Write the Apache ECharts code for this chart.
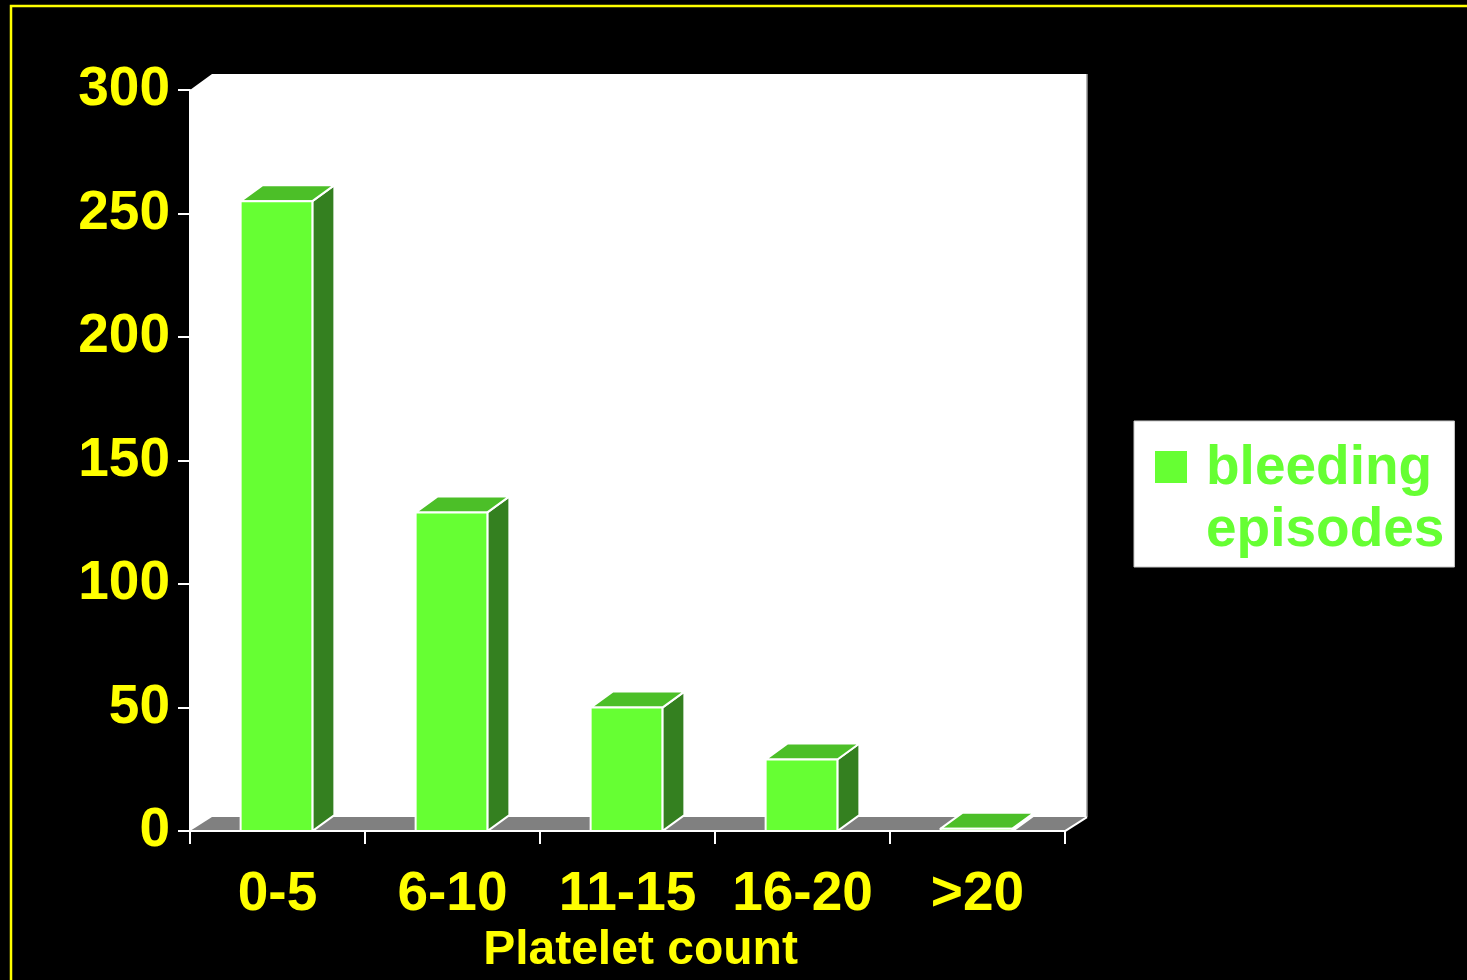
<!DOCTYPE html>
<html>
<head>
<meta charset="utf-8">
<style>
  html, body { margin: 0; padding: 0; background: #000; }
  #chart { width: 1467px; height: 980px; }
</style>
<script src="https://cdn.jsdelivr.net/npm/echarts@6/dist/echarts.min.js"></script>
</head>
<body>
<div id="chart"></div>
<script>
// Bleeding episodes by platelet count band
const categories = ['0-5', '6-10', '11-15', '16-20', '>20'];
const bleedingEpisodes = [255, 129, 50, 29, 1];
const yAxisMin = 0;
const yAxisMax = 300;
const yAxisStep = 50;

const seriesName = 'bleeding episodes';
const FONT = '"Liberation Sans", Arial, Helvetica, sans-serif';
const YELLOW = '#FFFF00';
const GREEN_FRONT = '#66FF33';
const GREEN_TOP = '#4CBF28';
const GREEN_SIDE = '#348020';
const FLOOR_GREY = '#808080';

// 3D extrusion offsets (pixels)
const DEPTH_X = 22;
const DEPTH_Y = 16;
const FLOOR_DEPTH_Y = 14;
const BAR_RATIO = 0.41;

function renderRoom(params, api) {
  const cs = params.coordSys;
  const l = cs.x, t = cs.y, r = cs.x + cs.width, b = cs.y + cs.height;
  return {
    type: 'group',
    children: [
      {
        type: 'polygon',
        shape: { points: [[l, t], [l + DEPTH_X, t - DEPTH_Y], [r + DEPTH_X, t - DEPTH_Y],
                          [r + DEPTH_X, b - FLOOR_DEPTH_Y], [r, b], [l, b]] },
        style: { fill: '#FFFFFF', stroke: null }
      },
      {
        type: 'line',
        shape: { x1: r + DEPTH_X, y1: t - DEPTH_Y, x2: r + DEPTH_X, y2: b - FLOOR_DEPTH_Y },
        style: { stroke: '#9A9A9A', lineWidth: 1.5 }
      },
      {
        type: 'polygon',
        shape: { points: [[l, b], [l + DEPTH_X, b - FLOOR_DEPTH_Y],
                          [r + DEPTH_X, b - FLOOR_DEPTH_Y], [r, b]] },
        style: { fill: FLOOR_GREY, stroke: null }
      },
      {
        type: 'line',
        shape: { x1: r, y1: b, x2: r + DEPTH_X, y2: b - FLOOR_DEPTH_Y },
        style: { stroke: '#FFFFFF', lineWidth: 2 }
      }
    ]
  };
}

function renderBar(params, api) {
  const top = api.coord([api.value(0), api.value(1)]);
  const base = api.coord([api.value(0), 0]);
  const band = api.size([1, 0])[0];
  const w = band * BAR_RATIO;
  const x0 = top[0] - w / 2 - 1, x1 = x0 + w;
  const y0 = top[1], y1 = base[1];
  const edge = { stroke: '#FFFFFF', lineWidth: 2, lineJoin: 'round' };
  return {
    type: 'group',
    children: [
      {
        type: 'polygon',
        shape: { points: [[x1, y1], [x1 + DEPTH_X, y1 - DEPTH_Y], [x1 + DEPTH_X, y0 - DEPTH_Y], [x1, y0]] },
        style: Object.assign({ fill: GREEN_SIDE }, edge)
      },
      {
        type: 'polygon',
        shape: { points: [[x0, y0], [x1, y0], [x1 + DEPTH_X, y0 - DEPTH_Y], [x0 + DEPTH_X, y0 - DEPTH_Y]] },
        style: Object.assign({ fill: GREEN_TOP }, edge)
      },
      {
        type: 'polygon',
        shape: { points: [[x0, y1], [x1, y1], [x1, y0], [x0, y0]] },
        style: Object.assign({ fill: GREEN_FRONT }, edge)
      }
    ]
  };
}

const chart = echarts.init(document.getElementById('chart'), null, { renderer: 'canvas' });

chart.setOption({
  backgroundColor: '#000000',
  animation: false,
  grid: { left: 190, top: 90, width: 875, height: 742, containLabel: false },
  legend: {
    data: [seriesName],
    left: 1134,
    top: 421,
    orient: 'vertical',
    backgroundColor: '#FFFFFF',
    borderColor: '#C8C8C8',
    borderWidth: 1,
    borderRadius: 0,
    padding: [17, 10, 5, 21],
    itemWidth: 46,
    itemHeight: 124,
    symbolKeepAspect: false,
    icon: 'path://M0 13h32v32h-32z M0 0h0.01v0.01h-0.01z M46 124h0.01v0.01h-0.01z',
    formatter: function () { return 'bleeding\nepisodes'; },
    textStyle: {
      color: GREEN_FRONT,
      fontFamily: FONT,
      fontWeight: 'bold',
      fontSize: 55,
      lineHeight: 62
    },
    selectedMode: false
  },
  xAxis: {
    type: 'category',
    data: categories,
    boundaryGap: true,
    z: 5,
    name: 'Platelet count',
    nameLocation: 'middle',
    nameGap: 92,
    nameTextStyle: {
      color: YELLOW, fontFamily: FONT, fontWeight: 'bold', fontSize: 48,
      padding: [0, 0, 0, 26]
    },
    axisLine: { show: true, lineStyle: { color: '#FFFFFF', width: 2 } },
    axisTick: { show: true, interval: 0, length: 13, lineStyle: { color: '#FFFFFF', width: 2 } },
    axisLabel: { interval: 0, color: YELLOW, fontFamily: FONT, fontWeight: 'bold', fontSize: 55, margin: 36 },
    splitLine: { show: false }
  },
  yAxis: {
    type: 'value',
    min: yAxisMin,
    max: yAxisMax,
    interval: yAxisStep,
    z: 5,
    axisLine: { show: true, lineStyle: { color: '#FFFFFF', width: 2 } },
    axisTick: { show: true, length: 12, lineStyle: { color: '#FFFFFF', width: 2 } },
    axisLabel: {
      color: YELLOW, fontFamily: FONT, fontWeight: 'bold', fontSize: 55, margin: 20,
      lineHeight: 62, padding: [8, 0, 0, 0]
    },
    splitLine: { show: false }
  },
  series: [
    {
      name: 'room',
      type: 'custom',
      renderItem: renderRoom,
      data: [[0, 0]],
      encode: { x: 0, y: 1 },
      silent: true,
      z: 1
    },
    {
      name: seriesName,
      type: 'custom',
      renderItem: renderBar,
      itemStyle: { color: GREEN_FRONT },
      data: bleedingEpisodes.map((v, i) => [i, v]),
      encode: { x: 0, y: 1 },
      z: 2
    }
  ],
  graphic: [
    {
      type: 'rect',
      shape: { x: 11, y: 6, width: 1480, height: 1000 },
      style: { fill: null, stroke: YELLOW, lineWidth: 2.5 },
      silent: true,
      z: 10
    }
  ]
});
</script>
</body>
</html>
